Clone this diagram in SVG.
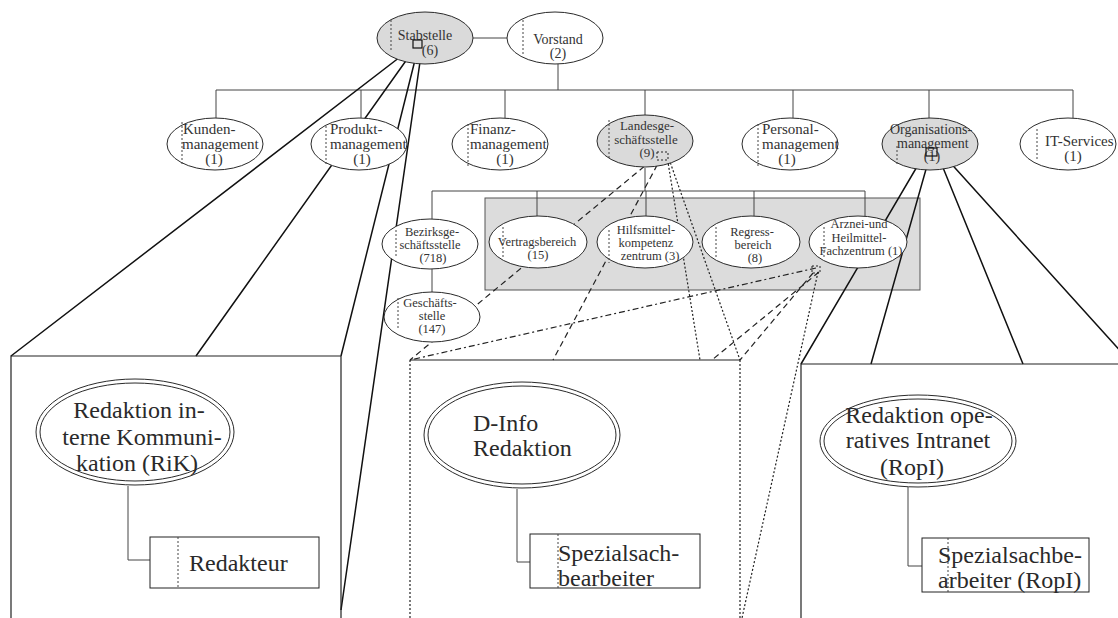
<svg xmlns="http://www.w3.org/2000/svg" width="1118" height="618" viewBox="0 0 1118 618">
  <style>
    .bg { fill: #ffffff; }
    .el { fill: #ffffff; stroke: #2a2a2a; stroke-width: 1; }
    .grey { fill: #dadada; }
    .div { stroke: #444; stroke-width: 1; stroke-dasharray: 2 2; fill: none; }
    .org { stroke: #444; stroke-width: 1; fill: none; }
    .asg { stroke: #111; stroke-width: 1.5; fill: none; }
    .box { stroke: #222; stroke-width: 1.2; fill: none; }
    .dsh { stroke: #222; stroke-width: 1.2; fill: none; stroke-dasharray: 6 4; }
    .dot { stroke: #222; stroke-width: 1.2; fill: none; stroke-dasharray: 2 2; }
    .dd { stroke: #222; stroke-width: 1.2; fill: none; stroke-dasharray: 6 3 2 3; }
    .sq { fill: none; stroke: #111; stroke-width: 1.2; }
    .sqd { fill: none; stroke: #222; stroke-width: 1; stroke-dasharray: 2 2; }
    .t { font-family: "Liberation Serif", "Times New Roman", serif; fill: #333; }
    .s15 { font-size: 15px; }
    .s14 { font-size: 14px; }
    .s13 { font-size: 13px; }
    .s12 { font-size: 12.5px; }
    .big { font-size: 24px; fill: #2a2a2a; }
    .m { text-anchor: middle; }
    .sub { fill: #ffffff; stroke: #222; stroke-width: 1; }
  </style>

  <rect class="bg" x="0" y="0" width="1118" height="618"/>

  <!-- shaded frame behind the Landesgeschäftsstelle sub-units -->
  <rect id="sub-units-frame" x="485" y="198" width="435" height="92" fill="#dcdcdc" stroke="#555" stroke-width="1"/>

  <!-- org chart connectors -->
  <g id="connectors">
    <path class="org" d="M473,38 H507"/>
    <path class="org" d="M558,64 V90"/>
    <path class="org" d="M216,90 H1073"/>
    <path class="org" d="M216,90 V119 M361,90 V118 M505,90 V118 M645,90 V117 M793,90 V118 M929,90 V118 M1073,90 V118"/>
    <path class="org" d="M645,168 V191 M432,191 H865"/>
    <path class="org" d="M432,191 V219 M537,191 V216 M646,191 V216 M754,191 V216 M865,191 V217"/>
    <path class="org" d="M432,269 V292"/>

    <!-- assignment lines: Stabstelle -> RiK -->
    <path class="asg" d="M413,47 L11,356 M415,48 L196,356 M418,48 L341,356 M422,48 L341,610"/>
    <!-- assignment lines: Organisationsmanagement -> RopI -->
    <path class="asg" d="M928,148 L801,364 M932,148 L871,364 M935,148 L1023,364 M937,148 L1132,364"/>
    <!-- assignment lines: Landesgeschäftsstelle -> D-Info -->
    <path class="dsh" d="M652,160 L410,360"/>
    <path class="dsh" d="M662,156 L553,360"/>
    <path class="dot" d="M667,156 L700,360"/>
    <path class="dot" d="M669,159 L740,360"/>
    <!-- assignment lines: Arznei- und Heilmittel-Fachzentrum -> D-Info -->
    <path class="dd" d="M816,268 L410,360"/>
    <path class="dsh" d="M819,272 L712,360"/>
    <path class="dsh" d="M813,273 L740,360"/>
    <path class="dot" d="M818,272 L742,618"/>

    <!-- inner connectors of the expanded boxes -->
    <path class="org" d="M128,486 V560 H150"/>
    <path class="org" d="M517,489 V562 H530"/>
    <path class="org" d="M908,487 V566 H922"/>
  </g>

  <!-- level 1 -->
  <g id="stabstelle">
    <ellipse class="el grey" cx="425" cy="38" rx="48" ry="26"/>
    <line class="div" x1="391" y1="20" x2="391" y2="52"/>
    <text class="t s14 m" x="425" y="40">Stabstelle</text>
    <text class="t s14 m" x="430" y="55">(6)</text>
    <rect class="sq" x="413" y="40" width="9" height="8"/>
  </g>
  <g id="vorstand">
    <ellipse class="el" cx="555" cy="38" rx="48" ry="26"/>
    <line class="div" x1="523" y1="20" x2="523" y2="54"/>
    <text class="t s14 m" x="558" y="44">Vorstand</text>
    <text class="t s14 m" x="558" y="58">(2)</text>
  </g>

  <!-- level 2 -->
  <g id="kundenmanagement">
    <ellipse class="el" cx="215" cy="144" rx="48" ry="26"/>
    <line class="div" x1="182" y1="122" x2="182" y2="166"/>
    <text class="t s15" x="183" y="134">Kunden-</text>
    <text class="t s15" x="182" y="149">management</text>
    <text class="t s15 m" x="214" y="164">(1)</text>
  </g>
  <g id="produktmanagement">
    <ellipse class="el" cx="359" cy="144" rx="48" ry="26"/>
    <line class="div" x1="326" y1="126" x2="326" y2="164"/>
    <text class="t s15" x="330" y="134">Produkt-</text>
    <text class="t s15" x="330" y="149">management</text>
    <text class="t s15 m" x="362" y="164">(1)</text>
  </g>
  <g id="finanzmanagement">
    <ellipse class="el" cx="500" cy="144" rx="48" ry="26"/>
    <line class="div" x1="468" y1="124" x2="468" y2="166"/>
    <text class="t s15" x="470" y="134">Finanz-</text>
    <text class="t s15" x="470" y="149">management</text>
    <text class="t s15 m" x="505" y="164">(1)</text>
  </g>
  <g id="landesgeschaeftsstelle">
    <ellipse class="el grey" cx="645" cy="141" rx="48" ry="26"/>
    <line class="div" x1="609" y1="120" x2="609" y2="158"/>
    <text class="t s13 m" x="647" y="130">Landesge-</text>
    <text class="t s13 m" x="646" y="144">schäftsstelle</text>
    <text class="t s13 m" x="647" y="157">(9)</text>
    <rect class="sqd" x="657" y="152" width="11" height="8"/>
  </g>
  <g id="personalmanagement">
    <ellipse class="el" cx="790" cy="144" rx="48" ry="26"/>
    <line class="div" x1="758" y1="124" x2="758" y2="166"/>
    <text class="t s15" x="762" y="134">Personal-</text>
    <text class="t s15" x="762" y="149">management</text>
    <text class="t s15 m" x="787" y="164">(1)</text>
  </g>
  <g id="organisationsmanagement">
    <ellipse class="el grey" cx="930" cy="144" rx="48" ry="26"/>
    <line class="div" x1="897" y1="146" x2="897" y2="164"/>
    <text class="t s14" x="890" y="134">Organisations-</text>
    <text class="t s14" x="897" y="148">management</text>
    <text class="t s14 m" x="932" y="161">(1)</text>
    <rect class="sq" x="926" y="148" width="11" height="8"/>
  </g>
  <g id="it-services">
    <ellipse class="el" cx="1068" cy="144" rx="48" ry="26"/>
    <line class="div" x1="1037" y1="129" x2="1037" y2="160"/>
    <text class="t s15" x="1045" y="146">IT-Services</text>
    <text class="t s15 m" x="1073" y="161">(1)</text>
  </g>

  <!-- level 3 -->
  <g id="bezirksgeschaeftsstelle">
    <ellipse class="el" cx="430" cy="244" rx="48" ry="25"/>
    <line class="div" x1="396" y1="230" x2="396" y2="258"/>
    <text class="t s12 m" x="432" y="236">Bezirksge-</text>
    <text class="t s12 m" x="430" y="249">schäftsstelle</text>
    <text class="t s12 m" x="433" y="262">(718)</text>
  </g>
  <g id="vertragsbereich">
    <ellipse class="el" cx="538" cy="242" rx="49" ry="26"/>
    <line class="div" x1="503" y1="227" x2="503" y2="258"/>
    <text class="t s12 m" x="537" y="246">Vertragsbereich</text>
    <text class="t s12 m" x="538" y="259">(15)</text>
  </g>
  <g id="hilfsmittelkompetenzzentrum">
    <ellipse class="el" cx="645" cy="242" rx="48" ry="26"/>
    <line class="div" x1="609" y1="230" x2="609" y2="263"/>
    <text class="t s12 m" x="646" y="234">Hilfsmittel-</text>
    <text class="t s12 m" x="646" y="247">kompetenz</text>
    <text class="t s12 m" x="650" y="260">zentrum (3)</text>
  </g>
  <g id="regressbereich">
    <ellipse class="el" cx="751" cy="242" rx="49" ry="26"/>
    <line class="div" x1="716" y1="227" x2="716" y2="258"/>
    <text class="t s12 m" x="752" y="236">Regress-</text>
    <text class="t s12 m" x="753" y="249">bereich</text>
    <text class="t s12 m" x="755" y="262">(8)</text>
  </g>
  <g id="arznei-heilmittel-fachzentrum">
    <ellipse class="el" cx="858" cy="242" rx="49" ry="26"/>
    <line class="div" x1="824" y1="227" x2="824" y2="258"/>
    <text class="t s12 m" x="859" y="228">Arznei-und</text>
    <text class="t s12 m" x="859" y="242">Heilmittel-</text>
    <text class="t s12 m" x="861" y="255">Fachzentrum (1)</text>
    <rect class="sqd" x="812" y="266" width="8" height="7"/>
  </g>
  <g id="geschaeftsstelle">
    <ellipse class="el" cx="432" cy="317" rx="48" ry="25"/>
    <line class="div" x1="398" y1="298" x2="398" y2="330"/>
    <text class="t s12 m" x="430" y="307">Geschäfts-</text>
    <text class="t s12 m" x="432" y="320">stelle</text>
    <text class="t s12 m" x="432" y="333">(147)</text>
  </g>

  <!-- expanded unit: Redaktion interne Kommunikation -->
  <g id="box-rik">
    <path class="box" d="M11,618 V356 H341 V618"/>
    <ellipse class="el" cx="135" cy="432" rx="99" ry="53"/>
    <ellipse class="el" cx="135" cy="432" rx="95" ry="49"/>
    <text class="t big m" x="139" y="418">Redaktion in-</text>
    <text class="t big m" x="142" y="445">terne Kommuni-</text>
    <text class="t big m" x="137" y="471">kation (RiK)</text>
  </g>
  <g id="redakteur">
    <rect class="sub" x="150" y="537" width="169" height="51"/>
    <line class="div" x1="178" y1="537" x2="178" y2="588"/>
    <text class="t big" x="189" y="571">Redakteur</text>
  </g>

  <!-- expanded unit: D-Info Redaktion -->
  <g id="box-dinfo">
    <path class="box" d="M410,360 H740"/>
    <path class="dot" d="M410,360 V618 M740,360 V618"/>
    <ellipse class="el" cx="522" cy="435" rx="98" ry="53"/>
    <ellipse class="el" cx="522" cy="435" rx="94" ry="49"/>
    <text class="t big" x="473" y="431">D-Info</text>
    <text class="t big" x="473" y="456">Redaktion</text>
  </g>
  <g id="spezialsachbearbeiter">
    <rect class="sub" x="530" y="534" width="170" height="54"/>
    <line class="div" x1="558" y1="534" x2="558" y2="588"/>
    <text class="t big" x="558" y="561">Spezialsach-</text>
    <text class="t big" x="558" y="586">bearbeiter</text>
  </g>

  <!-- expanded unit: Redaktion operatives Intranet -->
  <g id="box-ropi">
    <path class="box" d="M801,618 V364 H1120"/>
    <ellipse class="el" cx="918" cy="441" rx="98" ry="46"/>
    <ellipse class="el" cx="918" cy="441" rx="94" ry="42"/>
    <text class="t big m" x="919" y="423">Redaktion ope-</text>
    <text class="t big m" x="918" y="448">ratives Intranet</text>
    <text class="t big m" x="912" y="475">(RopI)</text>
  </g>
  <g id="spezialsachbearbeiter-ropi">
    <rect class="sub" x="922" y="538" width="167" height="54"/>
    <line class="div" x1="948" y1="538" x2="948" y2="592"/>
    <text class="t big" x="938" y="563">Spezialsachbe-</text>
    <text class="t big" x="938" y="588">arbeiter (RopI)</text>
  </g>
</svg>
